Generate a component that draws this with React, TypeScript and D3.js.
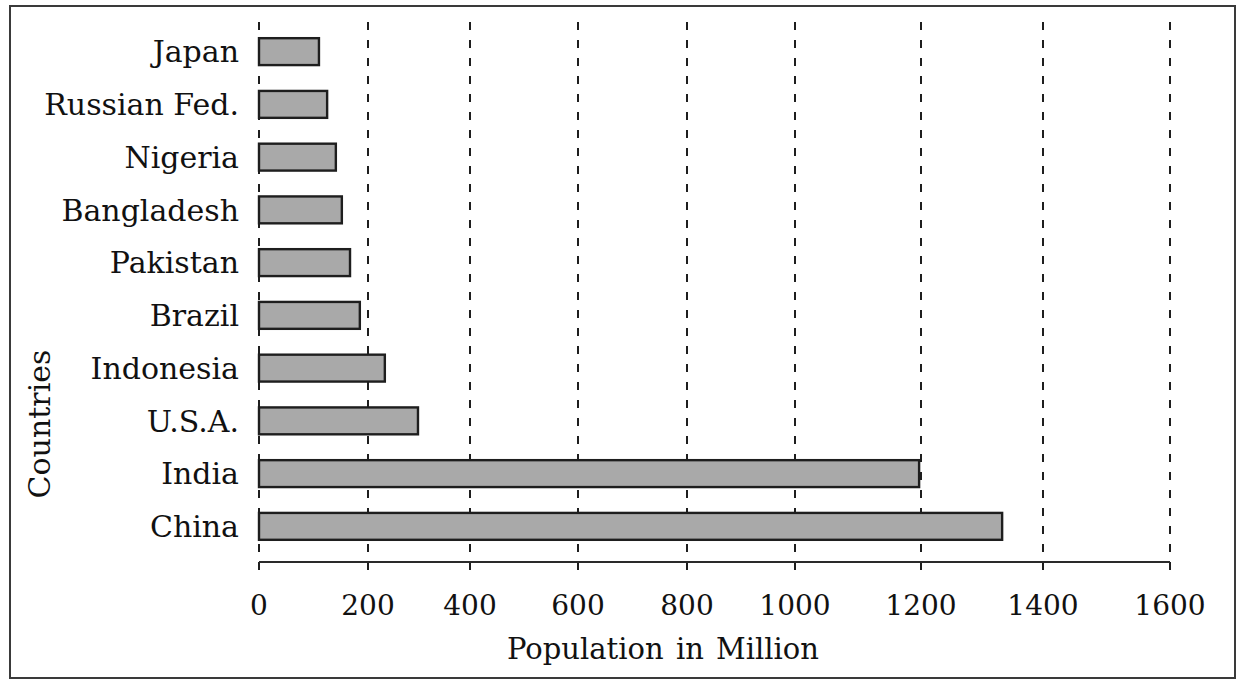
import * as React from "react";
import * as d3 from "d3";

// countries listed top to bottom
const countries = [
  "Japan",
  "Russian Fed.",
  "Nigeria",
  "Bangladesh",
  "Pakistan",
  "Brazil",
  "Indonesia",
  "U.S.A.",
  "India",
  "China",
];

// population in million
const population = [110, 125, 141, 152, 167, 185, 233, 298, 1197, 1333];

const xTicks = [0, 200, 400, 600, 800, 1000, 1200, 1400, 1600];

const W = 1237;
const H = 679;
const FONT = "'DejaVu Serif', serif";

export default function App() {
  // the printed axis is not evenly spaced, so map each tick to where it sits
  const x = React.useMemo(
    () =>
      d3
        .scaleLinear()
        .domain(xTicks)
        .range([259, 368, 470, 578, 687, 795, 921, 1043, 1170]),
    []
  );

  const y = React.useMemo(
    () => d3.scaleBand<string>().domain(countries).range([25, 553]).paddingInner(0.49).paddingOuter(0.25),
    []
  );

  const axisY = 562;
  const gridTop = 22;
  const gridBottom = 576;
  const ink = "#1e1e1e";

  return (
    <svg
      width={W}
      height={H}
      style={{ position: "absolute", left: 0, top: 0, display: "block", background: "#fff" }}
    >
      <rect x={10} y={6} width={1225} height={672} fill="#fff" stroke="#3a3a3a" strokeWidth={2} />

      {xTicks.map((t) => (
        <line
          key={`g-${t}`}
          x1={x(t)}
          x2={x(t)}
          y1={gridTop}
          y2={gridBottom}
          stroke={ink}
          strokeWidth={2}
          strokeDasharray="8 10"
        />
      ))}

      <line x1={x(0)} x2={x(1600)} y1={axisY} y2={axisY} stroke="#2a2a2a" strokeWidth={2} />

      {countries.map((c, i) => (
        <rect
          key={c}
          x={x(0)}
          y={y(c)}
          width={x(population[i]) - x(0)}
          height={y.bandwidth()}
          fill="#a9a9a9"
          stroke={ink}
          strokeWidth={2.4}
        />
      ))}

      {countries.map((c) => (
        <text
          key={`l-${c}`}
          x={239}
          y={(y(c) ?? 0) + y.bandwidth() / 2}
          dy="0.36em"
          textAnchor="end"
          fontFamily={FONT}
          fontSize={30}
          fill="#111"
        >
          {c}
        </text>
      ))}

      {xTicks.map((t) => (
        <text
          key={`t-${t}`}
          x={x(t)}
          y={615}
          textAnchor="middle"
          fontFamily={FONT}
          fontSize={28}
          fill="#111"
        >
          {t}
        </text>
      ))}

      <text
        x={663}
        y={659}
        textAnchor="middle"
        fontFamily={FONT}
        fontSize={29}
        fill="#111"
        wordSpacing={3}
      >
        Population in Million
      </text>

      <text
        transform="translate(50,424) rotate(-90)"
        textAnchor="middle"
        fontFamily={FONT}
        fontSize={30}
        fill="#111"
      >
        Countries
      </text>
    </svg>
  );
}
